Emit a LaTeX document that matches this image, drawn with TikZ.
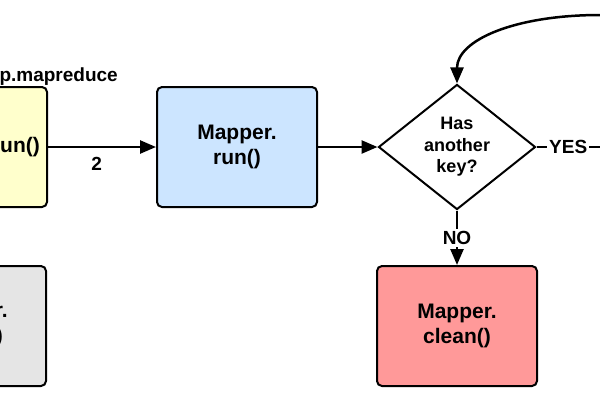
\documentclass[tikz,border=0pt]{standalone}
\usepackage{fontspec}
\setmainfont{Liberation Sans}
\usetikzlibrary{arrows.meta,shapes.geometric}

\definecolor{runyellow}{HTML}{FFFFCC}
\definecolor{runblue}{HTML}{CCE5FF}
\definecolor{cleanred}{HTML}{FF9999}
\definecolor{setupgray}{HTML}{E5E5E5}

\tikzset{
  stepbox/.style={draw, line width=2pt, rounded corners=5pt,
    minimum width=160pt, minimum height=120pt, align=center,
    font=\fontsize{21}{25}\selectfont\bfseries},
  steptext/.style={inner sep=0pt, font=\fontsize{21}{25}\selectfont\bfseries},
  decision/.style={draw, diamond, line width=2pt, inner sep=0pt,
    minimum width=157pt, minimum height=117pt, align=center,
    font=\fontsize{18}{21.5}\selectfont\bfseries},
  flow/.style={line width=2.5pt, -{Triangle[length=16pt,width=13pt]}},
  plainline/.style={line width=2.5pt},
  edgelabel/.style={fill=white, inner sep=2pt, font=\fontsize{19}{22}\selectfont\bfseries}
}

\begin{document}
\begin{tikzpicture}[x=1pt,y=-1pt]
    % Frame
    \useasboundingbox (0,0) rectangle (600,400);
    \clip (0,0) rectangle (600,400);

    % Boxes cut by the left edge
    \node[stepbox, fill=runyellow] (jobrun) at (-33,147) {};
    \node[steptext, anchor=west] (jobruntext) at (0,147) {un()};
    \node[steptext, font=\fontsize{19}{22}\selectfont\bfseries, anchor=base east] (jobtitle) at (118,81) {p.mapreduce};
    \node[stepbox, fill=setupgray] (mappersetup) at (-34,326) {};
    \node[steptext, anchor=base east] (setupline1) at (8,317) {r.};
    \node[steptext, anchor=base east] (setupline2) at (3,342) {)};

    % Mapper steps
    \node[stepbox, fill=runblue] (mapperrun) at (237,147) {Mapper.\\run()};
    \node[decision] (haskey) at (457,147) {Has\\another\\key?};
    \node[stepbox, fill=cleanred] (mapperclean) at (457,326) {Mapper.\\clean()};

    % Connectors
    \draw[flow] (jobrun) -- node[pos=0.45, below=6pt, font=\fontsize{19}{22}\selectfont\bfseries] (twolabel) {2} (mapperrun);
    \draw[flow] (mapperrun) -- (haskey);
    \draw[flow] (haskey) -- node[edgelabel] (nolabel) {NO} (mapperclean);

    \coordinate (yesend) at (600,147);
    \coordinate (loopstart) at (600,15);
    \draw[plainline] (haskey) -- node[edgelabel] (yeslabel) {YES} (yesend);
    \draw[flow] (loopstart) .. controls (515,15) and (457,40) .. (haskey.north);
\end{tikzpicture}
\end{document}
